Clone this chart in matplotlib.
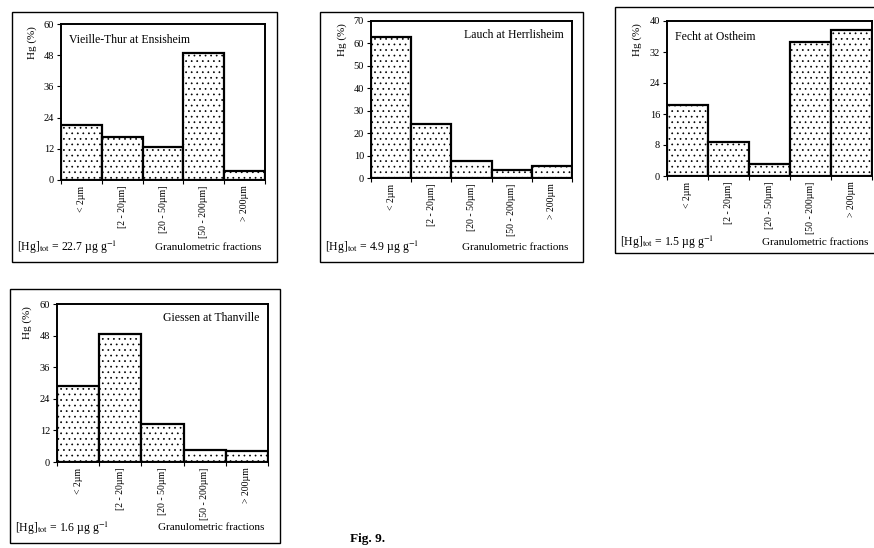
import matplotlib
matplotlib.use("Agg")
import matplotlib.pyplot as plt
from matplotlib.patches import Rectangle

# granulometric fractions and Hg distribution (%) per station
fractions = ["< 2µm", "[2 - 20µm]", "[20 - 50µm]", "[50 - 200µm]", "> 200µm"]
vieille_thur = [21.0, 16.5, 12.5, 49.0, 3.5]
lauch = [63.0, 24.0, 7.4, 3.4, 5.2]
fecht = [18.2, 8.8, 3.2, 34.7, 37.6]
giessen = [29.0, 48.5, 14.6, 4.4, 4.1]

stations = ["Vieille-Thur at Ensisheim", "Lauch at Herrlisheim",
            "Fecht at Ostheim", "Giessen at Thanville"]
hg_total = ["22.7", "4.9", "1.5", "1.6"]
y_max = [60, 70, 40, 60]
y_step = [12, 10, 8, 12]

plt.rcParams["font.family"] = ["Liberation Serif", "DejaVu Serif"]
plt.rcParams["mathtext.fontset"] = "stix"
plt.rcParams["hatch.linewidth"] = 0.5

W, H = 874, 548
fig = plt.figure(figsize=(W / 100, H / 100), dpi=100)


def px_rect(x0, y0, x1, y1):
    """pixel box (top-left origin) -> figure fraction [l, b, w, h]"""
    return [x0 / W, 1 - y1 / H, (x1 - x0) / W, (y1 - y0) / H]


def draw_panel(values, i, ax_box, frame_box, footer_y, title_right):
    # outer frame around the panel
    fx0, fy0, fx1, fy1 = frame_box
    fig.add_artist(Rectangle((fx0 / W, 1 - fy1 / H), (fx1 - fx0) / W, (fy1 - fy0) / H,
                             transform=fig.transFigure, fill=False, lw=1.0, color="black"))

    ax = fig.add_axes(px_rect(*ax_box))
    x = range(len(fractions))
    ax.bar(x, values, width=1.0, color="white", edgecolor="black", lw=1.6, hatch="...")
    ax.set_xlim(-0.5, len(fractions) - 0.5)
    ax.set_ylim(0, y_max[i])
    ax.set_yticks(range(0, y_max[i] + 1, y_step[i]))
    ax.set_xticks(list(x))
    ax.set_xticklabels(fractions, rotation=90, fontsize=7)
    ax.set_xticks([k - 0.5 for k in range(len(fractions) + 1)], minor=True)
    ax.tick_params(axis="x", which="major", length=0, pad=4)
    ax.tick_params(axis="x", which="minor", length=3, width=0.8)
    ax.tick_params(axis="y", labelsize=7.5, length=3, width=0.8, pad=2)
    for s in ax.spines.values():
        s.set_linewidth(1.4)

    ax.set_ylabel("Hg (%)", fontsize=8)
    ax.yaxis.set_label_coords(-0.12, 0.88)

    if title_right:
        ax.text(0.96, 0.91, stations[i], transform=ax.transAxes, ha="right",
                va="center", fontsize=8.5)
    else:
        ax.text(0.04, 0.90, stations[i], transform=ax.transAxes, ha="left",
                va="center", fontsize=8.5)

    # footer texts inside the frame
    fig.text((fx0 + 5) / W, 1 - footer_y / H,
             "[Hg]$_{\\rm tot}$ = " + hg_total[i] + " µg g$^{-1}$",
             ha="left", va="center", fontsize=8.5)
    fig.text((ax_box[2] - 4) / W, 1 - footer_y / H, "Granulometric fractions",
             ha="right", va="center", fontsize=8)
    return ax


draw_panel(vieille_thur, 0, (61, 24, 265, 180), (12, 12, 277, 262), 247, False)
draw_panel(lauch, 1, (371, 21, 572, 178), (320, 12, 583, 262), 247, True)
draw_panel(fecht, 2, (667, 21, 872, 176), (615, 7, 880, 253), 242, False)
draw_panel(giessen, 3, (57, 304, 268, 462), (10, 289, 280, 543), 528, True)

fig.text(368 / W, 1 - 539 / H, "Fig. 9.", ha="center", va="center",
         fontsize=9.5, fontweight="bold")

fig.savefig("out.png", dpi=100)
